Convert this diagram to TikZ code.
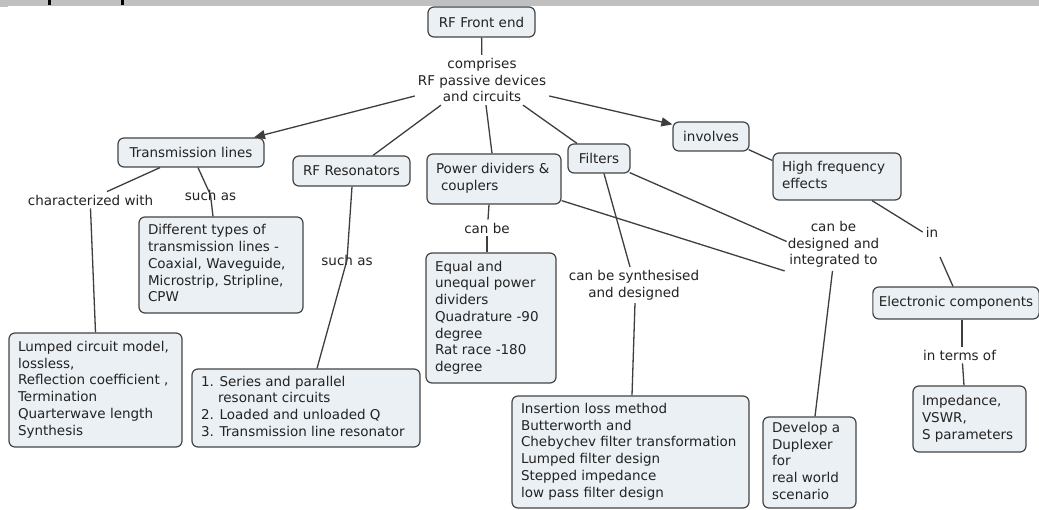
\documentclass[tikz,border=0pt]{standalone}
\usepackage{fontspec}
\setmainfont{DejaVu Sans}
\usetikzlibrary{arrows.meta}

\definecolor{boxfill}{RGB}{234,240,244}
\definecolor{boxline}{RGB}{68,68,68}
\definecolor{inkc}{RGB}{35,35,35}
\definecolor{linkc}{RGB}{62,62,62}
\definecolor{barc}{RGB}{192,192,192}

% left-aligned block of lines of a fixed width
\newcommand{\cbox}[2]{\makebox[#1][l]{\begin{tabular}{@{}l@{}}#2\end{tabular}}}

\tikzset{
  concept/.style={draw=boxline, line width=1.2pt, rounded corners=6pt, fill=boxfill,
    text=inkc, font=\fontsize{13.5}{16.7}\selectfont, inner xsep=9pt, inner ysep=2pt},
  phrase/.style={text=inkc, font=\fontsize{13.5}{16.7}\selectfont, align=center, inner sep=3pt},
  link/.style={draw=linkc, line width=1.3pt},
  arrowlink/.style={link, -{Triangle[length=11pt,width=9pt]}}
}

\begin{document}
\begin{tikzpicture}[x=1pt,y=-1pt]
\useasboundingbox (0,0) rectangle (1039,510);
\fill[white] (0,0) rectangle (1039,510);

% title bar along the top edge
\fill[barc] (0,0) rectangle (1039,6);
\fill[barc] (0,0) rectangle (8,7);
\fill[black] (48,0) rectangle (51,5);
\fill[black] (121,0) rectangle (124,5);

% concepts and linking phrases
\node[concept, minimum width=107pt, minimum height=30pt] (front) at (481.5,22) {RF Front end};
\node[phrase] (comprises) at (482,80) {comprises\\RF passive devices\\and circuits};

\node[concept, minimum width=146pt, minimum height=29pt] (tl) at (191,152.5) {Transmission lines};
\node[concept, minimum width=117pt, minimum height=30pt] (res) at (351.5,171) {RF Resonators};
\node[concept, minimum width=134pt, minimum height=50pt] (pow) at (494,179)
  {\cbox{116pt}{Power dividers \&\\\hspace*{5pt}couplers}};
\node[concept, minimum width=62pt, minimum height=29pt] (filt) at (599,158.5) {Filters};
\node[concept, minimum width=76pt, minimum height=29pt] (inv) at (711,136.5) {involves};
\node[concept, minimum width=128pt, minimum height=47pt] (hfe) at (837,176.5)
  {\cbox{110pt}{High frequency\\effects}};

\node[phrase] (in) at (932,232) {in};
\node[concept, minimum width=162pt, minimum height=32pt, inner xsep=6pt] (elec) at (956,303) {Electronic components};
\node[phrase] (interms) at (959.5,355) {in terms of};
\node[concept, minimum width=113pt, minimum height=66pt] (imp) at (969.5,419)
  {\cbox{95pt}{Impedance,\\VSWR,\\S parameters}};

\node[phrase] (canDI) at (833.5,244.5) {can be\\designed and\\integrated to};
\node[concept, minimum width=93pt, minimum height=91pt] (dup) at (809.5,462.5)
  {\cbox{75pt}{Develop a\\Duplexer\\for\\real world\\scenario}};

\node[phrase] (synth) at (634,285) {can be synthesised\\and designed};
\node[concept, minimum width=237pt, minimum height=112pt] (ins) at (630.5,452)
  {\cbox{219pt}{Insertion loss method\\Butterworth and\\Chebychev filter transformation\\Lumped filter design\\Stepped impedance\\low pass filter design}};

\node[phrase] (canbe) at (487,228) {can be};
\node[concept, minimum width=130pt, minimum height=130pt] (equal) at (491,318)
  {\cbox{112pt}{Equal and\\unequal power\\dividers\\Quadrature -90\\degree\\Rat race -180\\degree}};

\node[phrase] (char) at (90.5,200) {characterized with};
\node[concept, minimum width=173pt, minimum height=114pt] (lumped) at (95.5,390)
  {\cbox{155pt}{Lumped circuit model,\\lossless,\\Reflection coefficient ,\\Termination\\Quarterwave length\\Synthesis}};

\node[phrase] (such1) at (210.5,195) {such as};
\node[concept, minimum width=164pt, minimum height=96pt] (diff) at (221,265)
  {\cbox{146pt}{Different types of\\transmission lines -\\Coaxial, Waveguide,\\Microstrip, Stripline,\\CPW}};

\node[phrase] (such2) at (347,260) {such as};
\node[concept, minimum width=228pt, minimum height=78pt] (reslist) at (306,408)
  {\cbox{210pt}{1. Series and parallel\\\hphantom{1.\ }resonant circuits\\2. Loaded and unloaded Q\\3. Transmission line resonator}};

% connectors
\draw[link] (front) -- (comprises);
\draw[arrowlink] ([yshift=-16pt]comprises.west) -- ([xshift=63pt]tl.north);
\draw[link] ([xshift=-41pt]comprises.south) -- ([xshift=21.5pt]res.north);
\draw[link] ([xshift=4pt]comprises.south) -- ([xshift=-2pt]pow.north);
\draw[link] ([xshift=41pt]comprises.south) -- ([xshift=-22pt]filt.north);
\draw[arrowlink] ([yshift=-16pt]comprises.east) -- ([yshift=-3pt]inv.north west);

\draw[link] ([xshift=-1pt,yshift=2pt]inv.south east) -- ([yshift=16pt]hfe.west);
\draw[link] ([xshift=35pt]hfe.south) -- (in.west);
\draw[link] ([shift={(8pt,-25pt)}]in.center) -- ([xshift=-3pt]elec.north);
\draw[link] ([xshift=6pt]elec.south) -- ([xshift=2.5pt]interms.north);
\draw[link] ([xshift=3pt]interms.south) -- ([xshift=-5.5pt]imp.north);

\draw[link] ([xshift=5.5pt]dup.north) -- ([xshift=-1pt]canDI.south);
\draw[link] ([xshift=-1pt,yshift=1pt]filt.south east) -- ([xshift=2pt,yshift=3pt]canDI.west);
\draw[link] ([yshift=4pt]pow.south east) -- (canDI.south west);

\draw[link] ([xshift=5pt]filt.south) -- ([xshift=-4pt]synth.north);
\draw[link] ([xshift=1pt]synth.south) -- ([xshift=1.5pt]ins.north);

\draw[link] ([xshift=-5pt]pow.south) -- ([xshift=1pt]canbe.north);
\draw[link] (canbe.south) -- ([xshift=-4pt]equal.north);

\draw[link] ([xshift=-31pt]tl.south) -- ([xshift=16.5pt]char.north);
\draw[link] (char.south) -- (lumped.north);
\draw[link] ([xshift=7pt]tl.south) -- (such1.center) -- ([xshift=-8pt]diff.north);
\draw[link] ([xshift=0.5pt]res.south) -- (such2.center) -- ([xshift=11pt]reslist.north);
\end{tikzpicture}
\end{document}
